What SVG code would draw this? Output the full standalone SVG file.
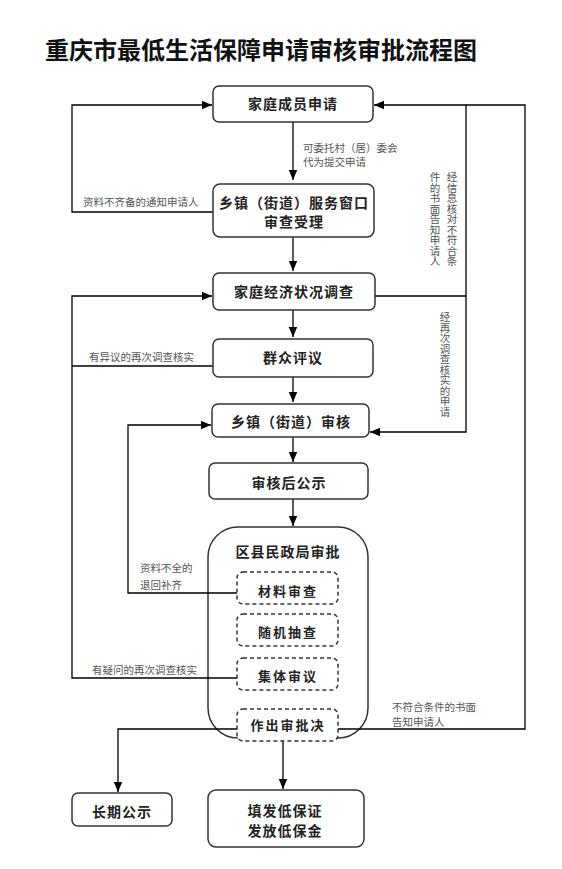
<svg xmlns="http://www.w3.org/2000/svg" width="562" height="869" viewBox="0 0 562 869">
<defs>
<marker id="arr" markerUnits="userSpaceOnUse" markerWidth="10" markerHeight="10" viewBox="0 0 10 10" refX="10" refY="5" orient="auto">
<path d="M0,0.8 L10,5 L0,9.2 Z" fill="#000"/>
</marker>
<style>
.box{fill:#fff;stroke:#333;stroke-width:1.5}
.outer{fill:none;stroke:#333;stroke-width:1.5}
.dash{fill:#fff;stroke:#333;stroke-width:1.5;stroke-dasharray:4 3}
.t{font-family:"Noto Sans CJK SC","Liberation Sans",sans-serif;font-weight:bold;font-size:14px;fill:#222;text-anchor:middle;letter-spacing:1px}
.d{font-family:"Noto Sans CJK SC","Liberation Sans",sans-serif;font-weight:bold;font-size:13px;fill:#222;text-anchor:middle;letter-spacing:2px}
.s{font-family:"Noto Sans CJK SC","Liberation Serif",serif;font-size:10.5px;fill:#555}
.v{font-family:"Noto Sans CJK SC","Liberation Serif",serif;font-size:10.5px;fill:#555;writing-mode:vertical-rl;text-orientation:upright}
.title{font-family:"Noto Sans CJK SC","Liberation Sans",sans-serif;font-weight:bold;font-size:24px;fill:#111}
#connectors path{fill:none;stroke:#000;stroke-width:1.3}
</style>
</defs>
<rect width="562" height="869" fill="#fff"/>
<text class="title" x="45" y="59">重庆市最低生活保障申请审核审批流程图</text>

<g id="n7"><rect class="outer" x="208" y="527" width="160" height="211" rx="30"/><text class="t" x="288" y="557">区县民政局审批</text></g>

<g id="connectors">
<path d="M213,212 H72 V105 H212" marker-end="url(#arr)"/>
<path d="M293,122 V180" marker-end="url(#arr)"/>
<path d="M293,237 V271" marker-end="url(#arr)"/>
<path d="M237,678 H72 V296 H212" marker-end="url(#arr)"/>
<path d="M213,366 H72"/>
<path d="M338,729 H525 V105 H374" marker-end="url(#arr)"/>
<path d="M375,296 H466"/>
<path d="M466,105 V432 H370" marker-end="url(#arr)"/>
<path d="M293,310 V337" marker-end="url(#arr)"/>
<path d="M293,377 V402" marker-end="url(#arr)"/>
<path d="M237,593 H128 V425 H211" marker-end="url(#arr)"/>
<path d="M293,437 V462" marker-end="url(#arr)"/>
<path d="M293,499 V526" marker-end="url(#arr)"/>
<path d="M237,729 H118 V792" marker-end="url(#arr)"/>
<path d="M283,741 V789" marker-end="url(#arr)"/>
</g>

<g id="labels">
<text class="s" x="303" y="152">可委托村（居）委会</text>
<text class="s" x="303" y="166">代为提交申请</text>
<text class="s" x="83" y="206">资料不齐备的通知申请人</text>
<text class="s" x="89" y="361">有异议的再次调查核实</text>
<text class="s" x="140" y="572">资料不全的</text>
<text class="s" x="140" y="589">退回补齐</text>
<text class="s" x="92" y="674">有疑问的再次调查核实</text>
<text class="s" x="392" y="711">不符合条件的书面</text>
<text class="s" x="392" y="726">告知申请人</text>
<text class="v" x="452" y="172">经信息核对不符合条</text>
<text class="v" x="435" y="172">件的书面告知申请人</text>
<text class="v" x="445" y="312">经再次调查核实的申请</text>
</g>

<g id="n1"><rect class="box" x="213" y="86" width="160" height="36" rx="6"/><text class="t" x="293" y="109">家庭成员申请</text></g>
<g id="n2"><rect class="box" x="213" y="184" width="161" height="53" rx="7"/><text class="t" x="294" y="208">乡镇（街道）服务窗口</text><text class="t" x="294" y="227">审查受理</text></g>
<g id="n3"><rect class="box" x="213" y="273" width="162" height="37" rx="6"/><text class="t" x="294" y="297">家庭经济状况调查</text></g>
<g id="n4"><rect class="box" x="213" y="339" width="160" height="38" rx="6"/><text class="t" x="293" y="363">群众评议</text></g>
<g id="n5"><rect class="box" x="212" y="404" width="157" height="33" rx="6"/><text class="t" x="291" y="427">乡镇（街道）审核</text></g>
<g id="n6"><rect class="box" x="209" y="463" width="159" height="36" rx="6"/><text class="t" x="289" y="488">审核后公示</text></g>
<g id="n8"><rect class="dash" x="237" y="572" width="101" height="32" rx="6"/><text class="d" x="288" y="596">材料审查</text></g>
<g id="n9"><rect class="dash" x="237" y="614" width="101" height="32" rx="6"/><text class="d" x="288" y="637">随机抽查</text></g>
<g id="n10"><rect class="dash" x="237" y="658" width="101" height="32" rx="6"/><text class="d" x="288" y="681">集体审议</text></g>
<g id="n11"><rect class="dash" x="237" y="709" width="101" height="32" rx="6"/><text class="d" x="288" y="730">作出审批决</text></g>
<g id="n12"><rect class="box" x="72" y="793" width="100" height="33" rx="6"/><text class="t" x="122" y="817">长期公示</text></g>
<g id="n13"><rect class="box" x="208" y="790" width="156" height="57" rx="8"/><text class="t" x="285" y="816">填发低保证</text><text class="t" x="285" y="836">发放低保金</text></g>
</svg>
